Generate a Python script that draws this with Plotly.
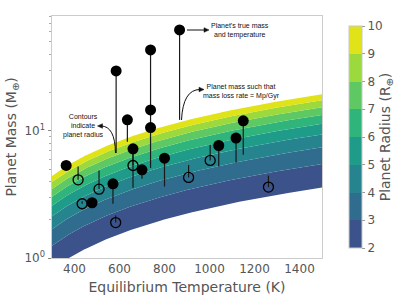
import numpy as np
import plotly.graph_objects as go

# ---------------- data ----------------
# planets above the stability threshold (filled markers)
hi_temp = [363, 478, 571, 585, 635, 660, 700, 738, 738, 738, 867, 800, 1041, 1118, 1150]
hi_mass = [5.34, 2.72, 3.83, 29.6, 12.2, 7.22, 4.94, 43.3, 14.6, 10.6, 62.2, 6.1, 7.67, 8.77, 12.0]
hi_mlim = [5.0, 2.6, 2.67, 6.7, 8.2, 3.57, 4.2, 14.6, 10.6, 5.1, 12.2, 3.65, 5.25, 5.6, 6.48]

# planets below the threshold (open markers)
lo_temp = [416, 434, 509, 583, 660, 907, 1003, 1262]
lo_mass = [4.12, 2.67, 3.48, 1.9, 5.34, 4.30, 5.85, 3.61]
lo_mlim = [5.25, 2.8, 4.88, 2.16, 7.0, 5.4, 7.76, 4.45]

# radius contour levels (R_earth) and threshold-mass model parameters
radius_levels = [2, 3, 4, 5, 6, 7, 8, 9, 10]
M_REF, T_REF, R_REF, P_R, Q_T = 19.4, 1500.0, 10.0, 1.05, 0.92
band_colors = ["#3b528b", "#2f6c8e", "#25848e", "#1e9c89",
               "#2fb47c", "#5ec962", "#9bd93c", "#dfe318"]

x_ticks = [400, 600, 800, 1000, 1200, 1400]

# ---------------- figure ----------------
W, H = 399, 308
L, R, T, B = 52, 77, 16, 50
PW, PH = W - L - R, H - T - B


def px(x):
    return (x - L) / PW


def py(y):
    return (H - B - y) / PH


fig = go.Figure()

tgrid = np.linspace(300, 1500, 200)
for i, rad in enumerate(radius_levels):
    m = M_REF * (rad / R_REF) ** P_R * (tgrid / T_REF) ** Q_T
    fig.add_trace(go.Scatter(
        x=tgrid, y=m, mode="lines", line=dict(width=0),
        fill="tonexty" if i > 0 else None,
        fillcolor=band_colors[i - 1] if i > 0 else None,
        hoverinfo="skip", showlegend=False))

# colorbar holder
cs = []
n = len(band_colors)
for i, c in enumerate(band_colors):
    cs.append([i / n, c])
    cs.append([(i + 1) / n, c])
fig.add_trace(go.Scatter(
    x=[1000], y=[0.1], mode="markers",
    marker=dict(color=[5], cmin=2, cmax=10, colorscale=cs, showscale=True,
                colorbar=dict(
                    x=(339 - L) / PW, xanchor="left", y=0.5, yanchor="middle",
                    len=1, lenmode="fraction", thickness=13,
                    outlinecolor="#c8c8c8", outlinewidth=1,
                    tickvals=radius_levels, ticks="outside", ticklen=3,
                    tickcolor="#999999",
                    tickfont=dict(size=12, color="#555555"),
                    title=dict(text="Planet Radius (R<sub>⊕</sub>)", side="right",
                               font=dict(size=14, color="#555555")))),
    hoverinfo="skip", showlegend=False))

# connecting lines
for temps, ms, ml in [(hi_temp, hi_mass, hi_mlim), (lo_temp, lo_mass, lo_mlim)]:
    lx, ly = [], []
    for t, a, b in zip(temps, ms, ml):
        lx += [t, t, None]
        ly += [a, b, None]
    fig.add_trace(go.Scatter(x=lx, y=ly, mode="lines",
                             line=dict(color="#1a1a1a", width=1.2),
                             hoverinfo="skip", showlegend=False))

fig.add_trace(go.Scatter(x=hi_temp, y=hi_mass, mode="markers",
                         marker=dict(size=11, color="black", line=dict(width=0)),
                         showlegend=False))
fig.add_trace(go.Scatter(x=lo_temp, y=lo_mass, mode="markers",
                         marker=dict(size=10, color="rgba(0,0,0,0)",
                                     line=dict(width=1.3, color="black")),
                         showlegend=False))

# annotations
afont = dict(family="Liberation Sans, Arial", size=7, color="#111111")
for tx, ty, txt in [(240, 30, "Planet's true mass<br>and temperature"),
                    (241, 92, "Planet mass such that<br>mass loss rate = Mp/Gyr"),
                    (83, 126, "Contours<br>indicate<br>planet radius")]:
    fig.add_annotation(x=px(tx), y=py(ty), xref="paper", yref="paper",
                       xanchor="center", yanchor="middle",
                       text=txt, showarrow=False, font=afont, align="center")

ac = "#111111"


def head(hx, hy, direction):
    # small filled triangle, pixel coords
    d = 1 if direction == "right" else -1
    p = (f"M {px(hx)} {py(hy)} L {px(hx - d * 5)} {py(hy - 2.3)} "
         f"L {px(hx - d * 5)} {py(hy + 2.3)} Z")
    fig.add_shape(type="path", xref="paper", yref="paper", path=p,
                  fillcolor=ac, line=dict(color=ac, width=0.5))


# straight arrow
fig.add_shape(type="line", xref="paper", yref="paper",
              x0=px(187), y0=py(30), x1=px(205), y1=py(30),
              line=dict(color=ac, width=1))
head(209, 30, "right")
# curved arrows
fig.add_shape(type="path", xref="paper", yref="paper",
              path=f"M {px(181.5)} {py(120)} Q {px(183)} {py(89.5)} {px(200)} {py(89.5)}",
              line=dict(color=ac, width=1))
head(204, 89.5, "right")
fig.add_shape(type="path", xref="paper", yref="paper",
              path=f"M {px(115.5)} {py(153)} Q {px(115)} {py(126)} {px(101)} {py(126)}",
              line=dict(color=ac, width=1))
head(97.5, 126, "left")

minor_vals = [2, 3, 4, 5, 6, 7, 8, 9, 20, 30, 40, 50, 60, 70, 80]
fig.update_layout(
    width=W, height=H, margin=dict(l=L, r=R, t=T, b=B, autoexpand=False),
    paper_bgcolor="white", plot_bgcolor="white",
    font=dict(family="DejaVu Sans", color="#555555"),
    xaxis=dict(range=[300, 1500], tickvals=x_ticks, ticks="",
               showgrid=False, zeroline=False, automargin=False,
               showline=True, mirror=True, linecolor="#cccccc", linewidth=1,
               tickfont=dict(size=12, color="#555555"),
               title=dict(text="Equilibrium Temperature (K)", standoff=6,
                          font=dict(size=14, color="#555555"))),
    yaxis=dict(type="log", range=[0, np.log10(80)],
               tickvals=[1, 10], ticktext=["10<sup>0</sup>", "10<sup>1</sup>"],
               ticks="outside", ticklen=3.5, tickcolor="#888888",
               minor=dict(tickvals=minor_vals, ticks="outside", ticklen=2,
                          tickcolor="#aaaaaa", showgrid=False),
               showgrid=False, zeroline=False, automargin=False,
               showline=True, mirror=True, linecolor="#cccccc", linewidth=1,
               tickfont=dict(size=12, color="#555555"),
               title=dict(text="Planet Mass (M<sub>⊕</sub>)", standoff=4,
                          font=dict(size=14, color="#555555"))),
)

fig.write_html("out.html", config={"displayModeBar": False},
               post_script="document.body.style.margin='0px';")
